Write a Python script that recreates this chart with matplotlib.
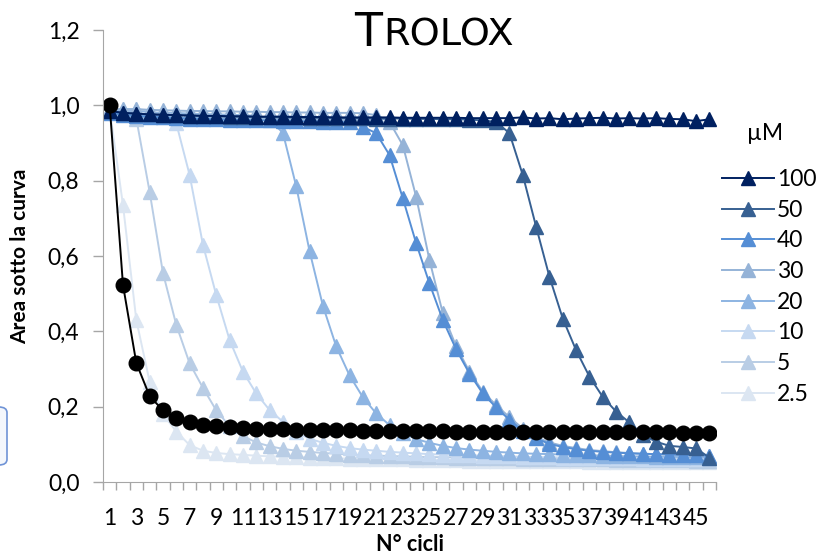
import matplotlib
matplotlib.use("Agg")
import matplotlib.pyplot as plt
from matplotlib.patches import FancyBboxPatch
from matplotlib.ticker import FuncFormatter

plt.rcParams['font.family'] = ['Lato', 'DejaVu Sans']

# N° cicli (categories 1..46)
cycles = list(range(1, 47))

# control curve (black circles)
control = [1.0, 0.523, 0.316, 0.228, 0.19, 0.169, 0.158, 0.152, 0.148, 0.145,
           0.143, 0.142, 0.141, 0.140, 0.139, 0.138, 0.138, 0.137, 0.137, 0.136,
           0.136, 0.136, 0.135, 0.135, 0.135, 0.135, 0.134, 0.134, 0.134, 0.134,
           0.134, 0.133, 0.133, 0.133, 0.133, 0.133, 0.133, 0.132, 0.132, 0.132,
           0.132, 0.132, 0.132, 0.131, 0.131, 0.131]

trolox_100 = [0.985, 0.98, 0.978, 0.976, 0.975, 0.974, 0.973, 0.972, 0.972, 0.971,
              0.971, 0.97, 0.97, 0.97, 0.969, 0.969, 0.969, 0.968, 0.968, 0.968,
              0.968, 0.968, 0.967, 0.967, 0.967, 0.967, 0.967, 0.966, 0.966, 0.966,
              0.966, 0.968, 0.965, 0.966, 0.963, 0.965, 0.966, 0.967, 0.965, 0.966,
              0.965, 0.966, 0.964, 0.963, 0.958, 0.963]

trolox_50 = [0.985, 0.98, 0.978, 0.976, 0.975, 0.974, 0.973, 0.972, 0.971, 0.97,
             0.97, 0.969, 0.969, 0.968, 0.968, 0.967, 0.967, 0.966, 0.966, 0.966,
             0.965, 0.965, 0.965, 0.964, 0.964, 0.963, 0.963, 0.962, 0.96, 0.956,
             0.926, 0.815, 0.678, 0.545, 0.434, 0.35, 0.28, 0.226, 0.187, 0.158,
             0.125, 0.107, 0.096, 0.093, 0.089, 0.065]

trolox_40 = [0.98, 0.975, 0.972, 0.97, 0.968, 0.966, 0.965, 0.964, 0.963, 0.962,
             0.961, 0.96, 0.96, 0.959, 0.958, 0.958, 0.957, 0.956, 0.955, 0.943,
             0.926, 0.868, 0.753, 0.634, 0.527, 0.43, 0.352, 0.288, 0.235, 0.198,
             0.165, 0.136, 0.116, 0.101, 0.093, 0.087, 0.083, 0.08, 0.078, 0.076,
             0.075, 0.074, 0.073, 0.072, 0.071, 0.07]

trolox_30 = [0.99, 0.99, 0.99, 0.988, 0.987, 0.986, 0.985, 0.985, 0.984, 0.984,
             0.983, 0.983, 0.982, 0.982, 0.981, 0.981, 0.98, 0.98, 0.98, 0.979,
             0.974, 0.956, 0.894, 0.757, 0.589, 0.448, 0.36, 0.293, 0.24, 0.204,
             0.172, 0.142, 0.12, 0.105, 0.096, 0.09, 0.085, 0.082, 0.079, 0.077,
             0.075, 0.074, 0.073, 0.072, 0.071, 0.07]

trolox_20 = [0.99, 0.985, 0.985, 0.982, 0.98, 0.98, 0.978, 0.977, 0.976, 0.975,
             0.974, 0.972, 0.962, 0.927, 0.785, 0.613, 0.468, 0.36, 0.283, 0.225,
             0.182, 0.151, 0.13, 0.114, 0.104, 0.096, 0.09, 0.086, 0.083, 0.08,
             0.078, 0.076, 0.075, 0.074, 0.073, 0.072, 0.071, 0.07, 0.069, 0.068,
             0.068, 0.067, 0.067, 0.066, 0.066, 0.065]

trolox_10 = [0.99, 0.99, 0.99, 0.985, 0.97, 0.952, 0.815, 0.63, 0.496, 0.377,
             0.293, 0.235, 0.191, 0.16, 0.132, 0.115, 0.104, 0.096, 0.09, 0.086,
             0.083, 0.08, 0.078, 0.076, 0.074, 0.073, 0.072, 0.071, 0.07, 0.069,
             0.068, 0.067, 0.066, 0.066, 0.065, 0.065, 0.064, 0.064, 0.063, 0.063,
             0.062, 0.062, 0.062, 0.061, 0.061, 0.061]

trolox_5 = [0.99, 0.985, 0.965, 0.77, 0.555, 0.417, 0.315, 0.25, 0.19, 0.148,
            0.122, 0.105, 0.095, 0.088, 0.083, 0.08, 0.077, 0.075, 0.073, 0.071,
            0.07, 0.069, 0.068, 0.067, 0.066, 0.066, 0.065, 0.064, 0.064, 0.063,
            0.063, 0.062, 0.062, 0.061, 0.061, 0.06, 0.06, 0.06, 0.059, 0.059,
            0.059, 0.058, 0.058, 0.058, 0.057, 0.057]

trolox_2_5 = [0.99, 0.735, 0.43, 0.266, 0.18, 0.134, 0.098, 0.083, 0.077, 0.074,
              0.072, 0.07, 0.068, 0.067, 0.066, 0.065, 0.064, 0.063, 0.062, 0.061,
              0.061, 0.06, 0.06, 0.059, 0.059, 0.058, 0.058, 0.057, 0.057, 0.057,
              0.056, 0.056, 0.056, 0.055, 0.055, 0.055, 0.054, 0.054, 0.054, 0.053,
              0.053, 0.053, 0.053, 0.052, 0.052, 0.052]

labels = ['100', '50', '40', '30', '20', '10', '5', '2.5']
series = [trolox_100, trolox_50, trolox_40, trolox_30, trolox_20, trolox_10, trolox_5, trolox_2_5]
colors = ['#002060', '#376092', '#558ed5', '#95b3d7', '#8db4e2', '#c6d9f1', '#b9cde5', '#dce6f2']

fig = plt.figure(figsize=(8.22, 5.6), dpi=100)
ax = fig.add_axes([103 / 822, 1 - 482 / 560, 613 / 822, 452 / 560])

# draw lightest first so that legend order stays 100 -> 2.5
lines = {}
for lab, vals, col in reversed(list(zip(labels, series, colors))):
    ln, = ax.plot(cycles, vals, color=col, marker='^', markersize=10,
                  linewidth=1.4, label=lab)
    lines[lab] = ln
ax.plot(cycles, control, color='black', marker='o', markersize=10.5, linewidth=1.4)

ax.set_xlim(0.5, 46.5)
ax.set_ylim(0, 1.2)
ax.set_yticks([0, 0.2, 0.4, 0.6, 0.8, 1.0, 1.2])
ax.yaxis.set_major_formatter(FuncFormatter(lambda v, p: f"{v:.1f}".replace('.', ',')))

# x labels every 2 cycles, tick marks between categories
ax.set_xticks(cycles[::2])
ax.set_xticklabels([str(c) for c in cycles[::2]])
ax.set_xticks([c + 0.5 for c in range(0, 47)], minor=True)
ax.tick_params(axis='x', which='major', length=0, pad=19, labelsize=16.5)
ax.tick_params(axis='x', which='minor', length=6, color='#a6a6a6', width=1)
ax.tick_params(axis='y', which='major', length=7, color='#a6a6a6', width=1, labelsize=16.5, pad=10)

for s in ['top', 'right']:
    ax.spines[s].set_visible(False)
ax.spines['left'].set_color('#a6a6a6')
ax.spines['bottom'].set_color('#a6a6a6')

ax.set_ylabel('Area sotto la curva', fontsize=15, fontweight='bold', va='center')
ax.yaxis.set_label_coords(-0.135, 0.5)
ax.set_xlabel('N° cicli', fontsize=15.5, fontweight='bold', va='center')
ax.xaxis.set_label_coords(0.5, -0.139)

# title in small caps style
fig.text(382 / 822, 1 - 46 / 560, 'T', fontsize=33, ha='right', va='baseline',
         family='DejaVu Sans')
fig.text(383 / 822, 1 - 46 / 560, 'ROLOX', fontsize=27.5, ha='left', va='baseline',
         family='DejaVu Sans')

# legend: title as separate text, entries below it
fig.text(765 / 822, 1 - 133 / 560, 'µM', fontsize=16.5, ha='center', va='center')
handles = [lines[l] for l in labels]
leg = fig.legend(handles, labels, loc='upper left',
                 bbox_to_anchor=(713 / 822, 1 - 160 / 560), frameon=False,
                 fontsize=16.5, handlelength=2.25, borderaxespad=0,
                 labelspacing=0.42, handletextpad=0.15, borderpad=0.4)

# cropped text box on the left edge
box = FancyBboxPatch((-40 / 822, 1 - 465 / 560), 47 / 822, 58 / 560,
                     boxstyle='round,pad=0,rounding_size=0.01',
                     transform=fig.transFigure, facecolor='#f4f7fc',
                     edgecolor='#6f93d6', linewidth=1.2)
fig.patches.append(box)

fig.savefig('out.png', dpi=100)
